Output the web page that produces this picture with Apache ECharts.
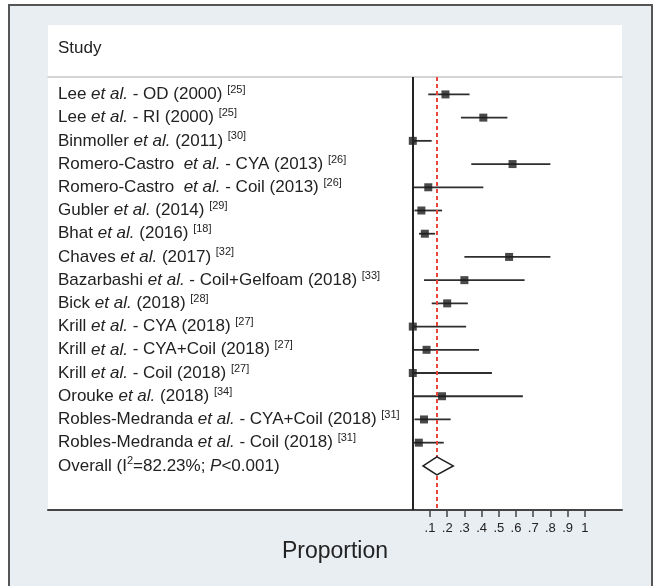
<!DOCTYPE html>
<html>
<head>
<meta charset="utf-8">
<script src="https://cdn.jsdelivr.net/npm/echarts@6/dist/echarts.min.js"></script>
<style>
  html, body { margin: 0; padding: 0; background: #ffffff; }
  #wrap { position: relative; width: 657px; height: 586px; overflow: hidden; }
  #outer { position: absolute; left: 8px; top: 4px; width: 641px; height: 640px; background: #e9eef3; border: 2px solid #555; }
  #panel { position: absolute; left: 48px; top: 25px; width: 574px; height: 485px; background: #ffffff; }
  #chart { position: absolute; left: 0; top: 0; width: 657px; height: 586px; }
</style>
</head>
<body>
<div id="wrap">
  <div id="outer"></div>
  <div id="panel"></div>
  <div id="chart"></div>
</div>
<script>
// ---- data ----
const studyAuthors = ['Lee', 'Lee', 'Binmoller', 'Romero-Castro ', 'Romero-Castro ', 'Gubler', 'Bhat', 'Chaves',
  'Bazarbashi', 'Bick', 'Krill', 'Krill', 'Krill', 'Orouke', 'Robles-Medranda', 'Robles-Medranda'];
const studySuffix = [' - OD (2000)', ' - RI (2000)', ' (2011)', ' - CYA (2013)', ' - Coil (2013)', ' (2014)', ' (2016)', ' (2017)',
  ' - Coil+Gelfoam (2018)', ' (2018)', ' - CYA (2018)', ' - CYA+Coil (2018)', ' - Coil (2018)', ' (2018)', ' - CYA+Coil (2018)', ' - Coil (2018)'];
const studyRefs = ['25', '25', '30', '26', '26', '29', '18', '32', '33', '28', '27', '27', '27', '34', '31', '31'];

const estimates = [0.19, 0.41, 0.00, 0.58, 0.09, 0.05, 0.07, 0.56, 0.30, 0.20, 0.00, 0.08, 0.00, 0.17, 0.065, 0.035];
const lowerCI   = [0.09, 0.28, 0.00, 0.34, 0.00, 0.01, 0.036, 0.30, 0.065, 0.11, 0.00, 0.00, 0.00, 0.00, 0.01, 0.003];
const upperCI   = [0.33, 0.55, 0.11, 0.80, 0.41, 0.17, 0.13, 0.80, 0.65, 0.32, 0.31, 0.385, 0.46, 0.64, 0.22, 0.18];

const overallLabel = 'Overall (I{s2|2}=82.23%; {i|P}<0.001)';
const overallEst = 0.14;
const overallLo = 0.06;
const overallHi = 0.235;

const xTicks = [0.1, 0.2, 0.3, 0.4, 0.5, 0.6, 0.7, 0.8, 0.9, 1.0];
const xTickLabels = ['.1', '.2', '.3', '.4', '.5', '.6', '.7', '.8', '.9', '1'];

// ---- build ----
const rowLabels = studyAuthors.map((a, i) => a + ' {i|et al.}' + studySuffix[i] + ' {s|[' + studyRefs[i] + ']}');
rowLabels.push(overallLabel);
const rowIdx = rowLabels.map((_, i) => i);

const ciData = estimates.map((e, i) => [lowerCI[i], upperCI[i], i]);
const estData = estimates.map((e, i) => [e, i]);
const diamondData = [[overallLo, overallEst, overallHi, studyAuthors.length]];

const FONT = '"Liberation Sans", Arial, Helvetica, sans-serif';

const chart = echarts.init(document.getElementById('chart'), null, { renderer: 'canvas' });
chart.setOption({
  backgroundColor: 'transparent',
  animation: false,
  title: {
    text: 'Study', left: 53, top: 35,
    textStyle: { fontFamily: FONT, fontSize: 17, fontWeight: 'normal', color: '#222' }
  },
  grid: { left: 48, right: 35, top: 77, bottom: 76, containLabel: false },
  xAxis: [{
    type: 'value', position: 'bottom',
    min: -2.1209, max: 1.2163,
    axisLine: { show: true, onZero: false, lineStyle: { color: '#444', width: 2 } },
    axisTick: { show: true, customValues: xTicks, length: 7, lineStyle: { color: '#444', width: 1.5 } },
    axisLabel: {
      show: true, customValues: xTicks, margin: 12,
      formatter: v => xTickLabels[xTicks.findIndex(t => Math.abs(t - v) < 1e-6)] || '',
      fontFamily: FONT, fontSize: 13, color: '#222'
    },
    splitLine: { show: false },
    name: 'Proportion', nameLocation: 'middle', nameGap: 26,
    nameTextStyle: { fontFamily: FONT, fontSize: 23, color: '#222' }
  }, {
    type: 'value', position: 'top',
    min: -2.1209, max: 1.2163,
    axisLine: { show: true, onZero: false, lineStyle: { color: '#c8c8c8', width: 1.5 } },
    axisTick: { show: false }, axisLabel: { show: false }, splitLine: { show: false }
  }],
  yAxis: {
    type: 'value', inverse: true, min: -0.75, max: 17.9,
    axisLine: { show: false, onZero: false }, axisTick: { show: false }, splitLine: { show: false },
    axisLabel: {
      show: true, inside: true, margin: 10, customValues: rowIdx,
      formatter: v => rowLabels[Math.round(v)] || '',
      fontFamily: FONT, fontSize: 17, color: '#222', lineHeight: 20,
      rich: {
        i: { fontStyle: 'italic', fontFamily: FONT, fontSize: 17, color: '#222', lineHeight: 20 },
        s: { fontSize: 11, fontFamily: FONT, color: '#222', lineHeight: 20, verticalAlign: 'top' },
        s2: { fontSize: 11, fontFamily: FONT, color: '#222', lineHeight: 20, verticalAlign: 'top' }
      }
    }
  },
  series: [{
    type: 'custom',
    name: 'ci',
    xAxisIndex: 0,
    z: 2,
    data: ciData,
    renderItem: (params, api) => {
      const p1 = api.coord([api.value(0), api.value(2)]);
      const p2 = api.coord([api.value(1), api.value(2)]);
      return { type: 'line', shape: { x1: p1[0], y1: p1[1], x2: p2[0], y2: p2[1] },
        style: { stroke: '#2e2e2e', lineWidth: 1.8 } };
    },
    markLine: {
      silent: true, symbol: 'none', label: { show: false },
      data: [
        { xAxis: 0, lineStyle: { color: '#222', width: 2, type: 'solid' } },
        { xAxis: overallEst, lineStyle: { color: '#e8463b', width: 2, type: [4, 3] } }
      ]
    }
  }, {
    type: 'scatter',
    name: 'est',
    xAxisIndex: 0,
    z: 4,
    symbol: 'rect', symbolSize: 8,
    itemStyle: { color: '#1c1c1c' },
    data: estData
  }, {
    type: 'custom',
    name: 'overall',
    xAxisIndex: 0,
    z: 5,
    data: diamondData,
    renderItem: (params, api) => {
      const y = api.value(3);
      const l = api.coord([api.value(0), y]);
      const c = api.coord([api.value(1), y]);
      const r = api.coord([api.value(2), y]);
      return { type: 'polygon', shape: { points: [[l[0], l[1]], [c[0], c[1] - 9], [r[0], r[1]], [c[0], c[1] + 9]] },
        style: { fill: '#ffffff', stroke: '#222', lineWidth: 1.6 } };
    }
  }]
});
</script>
</body>
</html>
